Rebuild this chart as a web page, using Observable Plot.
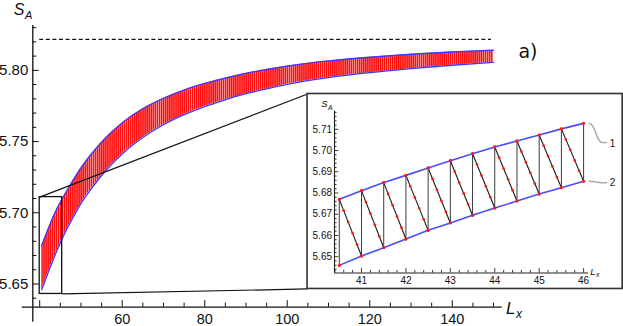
<!DOCTYPE html>
<html><head><meta charset="utf-8">
<script src="https://cdn.jsdelivr.net/npm/d3@7"></script>
<script src="https://cdn.jsdelivr.net/npm/@observablehq/plot@0.6"></script>
<style>
body{margin:0;background:#fff;}
#wrap{position:relative;width:623px;height:326px;overflow:hidden;background:#fff;}
#wrap svg{position:absolute;overflow:visible;}
</style></head><body><div id="wrap"></div>
<script>
// ---- main chart data ----
const envL     = [40.5, 42, 44, 46, 48, 50, 53, 56, 60, 65, 70, 75, 80, 85, 90, 95, 100, 110, 120, 130, 140, 150];
const envUpper = [5.6770,5.6883,5.7017,5.7124,5.7224,5.7315,5.7429,5.7526,5.7631,5.7730,5.7804,5.7862,5.7908,5.7946,5.7979,5.8006,5.8030,5.8066,5.8092,5.8113,5.8129,5.8142];
const envLower = [5.6459,5.6576,5.6721,5.6852,5.6962,5.7064,5.7188,5.7295,5.7413,5.7528,5.7618,5.7689,5.7746,5.7793,5.7836,5.7870,5.7902,5.7949,5.7984,5.8012,5.8036,5.8057];
const asymptoteS = 5.8218;
const asymptoteL = [40, 149.5];
const mainXTicks = [60, 80, 100, 120, 140];
const mainYTicks = [5.65, 5.70, 5.75, 5.80];
const zoomBoxL = [40, 45.45];
const zoomBoxS = [5.643, 5.711];
const insetFrameL = [104.92, 181.3];
const insetFrameS = [5.6465, 5.7834];

// ---- inset data ----
const insetL     = [40.5, 41, 41.5, 42, 42.5, 43, 43.5, 44, 44.5, 45, 45.5, 46];
const insetUpper = [5.6770,5.6811,5.6849,5.6883,5.6918,5.6952,5.6985,5.7017,5.7045,5.7073,5.7102,5.7128];
const insetLower = [5.6459,5.6503,5.6542,5.6583,5.6624,5.6659,5.6695,5.6729,5.6762,5.6795,5.6825,5.6855];
const insetXTicks = [41, 42, 43, 44, 45, 46];
const insetYTicks = [5.65, 5.66, 5.67, 5.68, 5.69, 5.70, 5.71];
const leaderL  = [46.12, 46.43, 46.52];
const leader1S = [5.7128, 5.7037, 5.7037];
const leader2S = [5.6855, 5.6848, 5.6848];
const curveLabels = ["1", "2"];
const curveLabelS = [5.7034, 5.6848];

const TICKFONT = "'Liberation Sans', Arial, sans-serif";

// ---------- main plot ----------
const xDom = [38.33, 152.1], xRng = [32.3, 501.7];
const yDom = [5.6337, 5.8315], yRng = [306.7, 25];
const kx = (xRng[1]-xRng[0])/(xDom[1]-xDom[0]);
const ky = (yRng[0]-yRng[1])/(yDom[1]-yDom[0]);

const band = envL.map((L,i)=>({L, up: envUpper[i], lo: envLower[i]}));
const xMinor = d3.range(40, 150.1, 5).filter(v => v % 20 !== 0);
const xMajor = d3.range(40, 150.1, 20);
const yMinorAll = d3.range(564, 583.1, 1).map(v => v/100).filter(v => !mainYTicks.some(t => Math.abs(t-v) < 1e-6));

const main = Plot.plot({
  width: 623, height: 326,
  x: {domain: xDom, range: xRng, axis: null},
  y: {domain: yDom, range: yRng, axis: null},
  style: {background: "transparent", overflow: "visible"},
  marks: [
    Plot.areaY(band, {x: "L", y1: "lo", y2: "up", fill: "url(#hatch)", curve: "monotone-x"}),
    Plot.line(band, {x: "L", y: "up", stroke: "#3a3aff", strokeWidth: 1.3, curve: "monotone-x"}),
    Plot.line(band, {x: "L", y: "lo", stroke: "#3a3aff", strokeWidth: 1.3, curve: "monotone-x"}),
    Plot.ruleY([asymptoteS], {x1: asymptoteL[0], x2: asymptoteL[1], stroke: "#111", strokeWidth: 1.2, strokeDasharray: "4,2.6"}),
    Plot.rect([0], {x1: zoomBoxL[0], x2: zoomBoxL[1], y1: zoomBoxS[0], y2: zoomBoxS[1], fill: "none", stroke: "#111", strokeWidth: 1.3}),
    Plot.link([0,1], {
      x1: i => i === 0 ? zoomBoxL[0] : zoomBoxL[1],
      y1: i => i === 0 ? zoomBoxS[1] : zoomBoxS[0],
      x2: insetFrameL[0],
      y2: i => i === 0 ? insetFrameS[1] : insetFrameS[0],
      stroke: "#111", strokeWidth: 1.2
    }),
    Plot.rect([0], {x1: insetFrameL[0], x2: insetFrameL[1], y1: insetFrameS[0], y2: insetFrameS[1], fill: "white", stroke: "#333", strokeWidth: 1.6}),
    // axes
    Plot.ruleX([xDom[0]], {y1: yDom[0] - 15/ky, y2: yDom[1], stroke: "#111", strokeWidth: 1.3}),
    Plot.ruleY([yDom[0]], {x1: xDom[0] - 10.6/kx, x2: xDom[1], stroke: "#111", strokeWidth: 1.3}),
    Plot.ruleX(xMajor, {x: d => d, y1: yDom[0], y2: yDom[0] + 6.5/ky, stroke: "#111", strokeWidth: 1}),
    Plot.ruleX(xMinor, {x: d => d, y1: yDom[0], y2: yDom[0] + 4/ky, stroke: "#111", strokeWidth: 1}),
    Plot.ruleY(mainYTicks, {y: d => d, x1: xDom[0], x2: xDom[0] + 6.5/kx, stroke: "#111", strokeWidth: 1}),
    Plot.ruleY(yMinorAll, {y: d => d, x1: xDom[0], x2: xDom[0] + 4/kx, stroke: "#111", strokeWidth: 1}),
    Plot.text(mainXTicks, {x: d => d, y: yDom[0], dy: 12.3, text: d => String(d), fontFamily: TICKFONT, fontSize: 14.5, fill: "#111"}),
    Plot.text(mainYTicks, {x: xDom[0], y: d => d, dx: -4.5, textAnchor: "end", text: d => d.toFixed(2), fontFamily: TICKFONT, fontSize: 15, fill: "#111"})
  ]
});
main.style.left = "0px"; main.style.top = "0px";
document.getElementById("wrap").appendChild(main);

const msvg = d3.select(main);
const defs = msvg.insert("defs", ":first-child");
const pw = 0.5 * kx;
const pat = defs.append("pattern").attr("id", "hatch").attr("patternUnits", "userSpaceOnUse")
  .attr("width", pw).attr("height", 20);
pat.append("rect").attr("width", pw).attr("height", 20).attr("fill", "#ff0d0d");
pat.append("rect").attr("x", pw*0.66).attr("width", pw*0.24).attr("height", 20).attr("fill", "#ffc8c8");

function addLabel(svg, x, y, mainTxt, sub, size, subSize, subDy) {
  const t = svg.append("text").attr("x", x).attr("y", y)
    .attr("font-family", TICKFONT).attr("font-style", "italic").attr("font-size", size).attr("fill", "#111");
  t.append("tspan").text(mainTxt);
  t.append("tspan").attr("font-size", subSize).attr("dy", subDy).attr("dx", 0.5).text(sub);
}
addLabel(msvg, 23, 15, "S", "A", 16, 11, 4);
addLabel(msvg, 514, 314, "L", "x", 17, 12, 4);
msvg.append("text").attr("x", 528).attr("y", 58).attr("font-family", "'DejaVu Sans', sans-serif")
  .attr("font-size", 19).attr("fill", "#111").text("a)");

// ---------- inset ----------
const sx = main.scale("x"), sy = main.scale("y");
const fLeft = sx.apply(insetFrameL[0]), fRight = sx.apply(insetFrameL[1]);
const fTop = sy.apply(insetFrameS[1]), fBottom = sy.apply(insetFrameS[0]);
const iw = fRight - fLeft, ih = fBottom - fTop;

const ixDom = [40.392, 46.11], ixRng = [27, 281];
const iyDom = [5.64232, 5.71862], iyRng = [178.5, 16.5];
const ikx = (ixRng[1]-ixRng[0])/(ixDom[1]-ixDom[0]);
const iky = (iyRng[0]-iyRng[1])/(iyDom[1]-iyDom[0]);
const idx = d3.range(insetL.length);
const idiag = d3.range(insetL.length - 1);
const ixMinor = d3.range(202, 230.1, 1).map(v => v/5).filter(v => v > ixDom[0] && v < ixDom[1] && !insetXTicks.includes(v));
const iyMinor = d3.range(2822, 2859.1, 1).map(v => v/500).filter(v => v > iyDom[0] && v < iyDom[1] && !insetYTicks.some(t => Math.abs(t-v) < 1e-6));

const inset = Plot.plot({
  width: iw, height: ih,
  x: {domain: ixDom, range: ixRng, axis: null},
  y: {domain: iyDom, range: iyRng, axis: null},
  style: {background: "transparent", overflow: "visible"},
  marks: [
    Plot.ruleX(idx, {x: i => insetL[i], y1: i => insetLower[i], y2: i => insetUpper[i], stroke: "#3a3a3a", strokeWidth: 1}),
    Plot.link(idiag, {x1: i => insetL[i], y1: i => insetUpper[i], x2: i => insetL[i+1], y2: i => insetLower[i+1], stroke: "#1a1a1a", strokeWidth: 1.1}),
    Plot.line(idx, {x: i => insetL[i], y: i => insetUpper[i], stroke: "#4b4bff", strokeWidth: 1.6}),
    Plot.line(idx, {x: i => insetL[i], y: i => insetLower[i], stroke: "#4b4bff", strokeWidth: 1.6}),
    Plot.link(idiag, {x1: i => insetL[i], y1: i => insetUpper[i], x2: i => insetL[i+1], y2: i => insetLower[i+1], stroke: "#ff1a1a", strokeWidth: 2.8, ariaDescription: "diag-dots"}),
    Plot.dot(idx, {x: i => insetL[i], y: i => insetUpper[i], r: 1.6, fill: "#ff1a1a"}),
    Plot.dot(idx, {x: i => insetL[i], y: i => insetLower[i], r: 1.6, fill: "#ff1a1a"}),
    // leader lines and labels
    Plot.line(d3.range(3), {x: i => leaderL[i], y: i => leader1S[i], stroke: "#aaa", strokeWidth: 1.4, curve: "bump-x"}),
    Plot.line(d3.range(3), {x: i => leaderL[i], y: i => leader2S[i], stroke: "#aaa", strokeWidth: 1.4, curve: "bump-x"}),
    Plot.text([0,1], {x: leaderL[2], y: i => curveLabelS[i], dx: 3, textAnchor: "start", text: i => curveLabels[i], fontFamily: TICKFONT, fontSize: 10, fill: "#111"}),
    // axes
    Plot.ruleX([ixDom[0]], {y1: iyDom[0], y2: iyDom[1], stroke: "#222", strokeWidth: 1.1}),
    Plot.ruleY([iyDom[0]], {x1: ixDom[0], x2: ixDom[1], stroke: "#222", strokeWidth: 1.1}),
    Plot.ruleX(insetXTicks, {x: d => d, y1: iyDom[0], y2: iyDom[0] + 4.3/iky, stroke: "#222", strokeWidth: 0.9}),
    Plot.ruleX(ixMinor, {x: d => d, y1: iyDom[0], y2: iyDom[0] + 2.6/iky, stroke: "#222", strokeWidth: 0.9}),
    Plot.ruleY(insetYTicks, {y: d => d, x1: ixDom[0], x2: ixDom[0] + 4.3/ikx, stroke: "#222", strokeWidth: 0.9}),
    Plot.ruleY(iyMinor, {y: d => d, x1: ixDom[0], x2: ixDom[0] + 2.6/ikx, stroke: "#222", strokeWidth: 0.9}),
    Plot.text(insetXTicks, {x: d => d, y: iyDom[0], dy: 7.5, text: d => String(d), fontFamily: TICKFONT, fontSize: 10, fill: "#111"}),
    Plot.text(insetYTicks, {x: ixDom[0], y: d => d, dx: -2.5, textAnchor: "end", text: d => d.toFixed(2), fontFamily: TICKFONT, fontSize: 10, fill: "#111"})
  ]
});
inset.style.left = fLeft + "px"; inset.style.top = fTop + "px";
document.getElementById("wrap").appendChild(inset);
const isvg = d3.select(inset);
let dotPaths = isvg.selectAll('g[aria-description="diag-dots"] path');
if (dotPaths.empty()) dotPaths = isvg.selectAll('path[stroke="#ff1a1a"], g[stroke="#ff1a1a"] path');
dotPaths.each(function() {
  const len = this.getTotalLength();
  d3.select(this).attr("stroke-dasharray", `0 ${len/5}`).attr("stroke-linecap", "round");
});
addLabel(isvg, 20, 13.5, "S", "A", 9.5, 7, 2.5);
addLabel(isvg, 288, 181, "L", "x", 9.5, 7, 2.5);
</script></body></html>
